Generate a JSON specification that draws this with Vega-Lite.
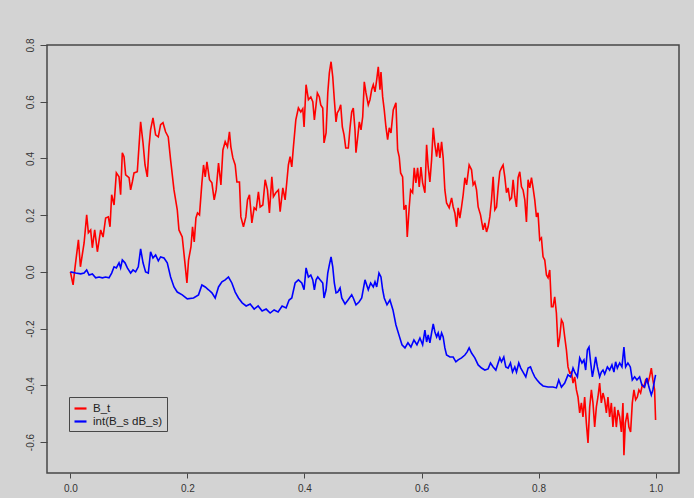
{
  "$schema": "https://vega.github.io/schema/vega-lite/v6.json",
  "autosize": "none",
  "width": 632,
  "height": 428,
  "padding": {"left": 47, "top": 45, "right": 15, "bottom": 25},
  "background": "#d3d3d3",
  "config": {
    "view": {"stroke": "#474747", "strokeWidth": 1.5, "fill": "#d3d3d3"},
    "axis": {"grid": false, "domain": false, "tickColor": "#474747", "tickWidth": 1, "labelFont": "Liberation Sans", "labelFontSize": 10, "labelColor": "#333333", "title": null}
  },
  "datasets": {
    "bt": [
      {"t":0,"v":0},{"t":0.0046,"v":-0.046},{"t":0.008,"v":0.018},{"t":0.0137,"v":0.113},{"t":0.0171,"v":0.018},{"t":0.0234,"v":0.102},{"t":0.0278,"v":0.201},{"t":0.0307,"v":0.138},{"t":0.0346,"v":0.148},{"t":0.0375,"v":0.085},{"t":0.0415,"v":0.148},{"t":0.0461,"v":0.071},{"t":0.0517,"v":0.148},{"t":0.0558,"v":0.123},{"t":0.0602,"v":0.19},{"t":0.0648,"v":0.194},{"t":0.0677,"v":0.159},{"t":0.0705,"v":0.272},{"t":0.0746,"v":0.236},{"t":0.0785,"v":0.349},{"t":0.0831,"v":0.335},{"t":0.0858,"v":0.272},{"t":0.0887,"v":0.42},{"t":0.0916,"v":0.406},{"t":0.0944,"v":0.342},{"t":0.1002,"v":0.332},{"t":0.1029,"v":0.289},{"t":0.1058,"v":0.317},{"t":0.1087,"v":0.349},{"t":0.1143,"v":0.353},{"t":0.12,"v":0.529},{"t":0.1241,"v":0.455},{"t":0.1275,"v":0.377},{"t":0.1314,"v":0.335},{"t":0.1343,"v":0.441},{"t":0.137,"v":0.501},{"t":0.1411,"v":0.543},{"t":0.1456,"v":0.483},{"t":0.1502,"v":0.476},{"t":0.1541,"v":0.519},{"t":0.1582,"v":0.526},{"t":0.1626,"v":0.494},{"t":0.1672,"v":0.476},{"t":0.1712,"v":0.395},{"t":0.177,"v":0.289},{"t":0.1826,"v":0.219},{"t":0.1855,"v":0.148},{"t":0.1911,"v":0.123},{"t":0.1957,"v":0.032},{"t":0.1991,"v":-0.039},{"t":0.2019,"v":0.042},{"t":0.206,"v":0.088},{"t":0.2087,"v":0.159},{"t":0.2116,"v":0.106},{"t":0.2145,"v":0.19},{"t":0.2172,"v":0.208},{"t":0.2206,"v":0.201},{"t":0.2247,"v":0.314},{"t":0.2275,"v":0.377},{"t":0.2304,"v":0.335},{"t":0.2333,"v":0.388},{"t":0.2377,"v":0.325},{"t":0.2418,"v":0.314},{"t":0.2457,"v":0.254},{"t":0.2491,"v":0.289},{"t":0.2531,"v":0.384},{"t":0.2572,"v":0.307},{"t":0.2606,"v":0.43},{"t":0.2645,"v":0.459},{"t":0.2684,"v":0.441},{"t":0.2718,"v":0.494},{"t":0.2742,"v":0.441},{"t":0.2776,"v":0.402},{"t":0.2816,"v":0.377},{"t":0.2845,"v":0.317},{"t":0.2889,"v":0.317},{"t":0.2913,"v":0.194},{"t":0.2957,"v":0.159},{"t":0.2998,"v":0.194},{"t":0.3026,"v":0.254},{"t":0.306,"v":0.272},{"t":0.3101,"v":0.173},{"t":0.314,"v":0.226},{"t":0.3174,"v":0.219},{"t":0.3213,"v":0.282},{"t":0.3242,"v":0.229},{"t":0.3288,"v":0.236},{"t":0.3328,"v":0.325},{"t":0.3367,"v":0.289},{"t":0.3401,"v":0.208},{"t":0.3442,"v":0.335},{"t":0.3469,"v":0.265},{"t":0.351,"v":0.279},{"t":0.3555,"v":0.289},{"t":0.3584,"v":0.212},{"t":0.363,"v":0.296},{"t":0.3669,"v":0.254},{"t":0.3698,"v":0.317},{"t":0.3725,"v":0.377},{"t":0.3754,"v":0.406},{"t":0.3783,"v":0.37},{"t":0.3811,"v":0.441},{"t":0.3852,"v":0.536},{"t":0.3896,"v":0.578},{"t":0.3937,"v":0.564},{"t":0.3971,"v":0.575},{"t":0.3993,"v":0.511},{"t":0.4027,"v":0.66},{"t":0.4067,"v":0.607},{"t":0.4108,"v":0.617},{"t":0.4142,"v":0.6},{"t":0.4169,"v":0.536},{"t":0.4198,"v":0.589},{"t":0.422,"v":0.631},{"t":0.4254,"v":0.617},{"t":0.4278,"v":0.589},{"t":0.4312,"v":0.578},{"t":0.4334,"v":0.455},{"t":0.4369,"v":0.49},{"t":0.4398,"v":0.631},{"t":0.4425,"v":0.702},{"t":0.4454,"v":0.741},{"t":0.4483,"v":0.688},{"t":0.451,"v":0.607},{"t":0.4539,"v":0.529},{"t":0.4561,"v":0.561},{"t":0.459,"v":0.571},{"t":0.4619,"v":0.589},{"t":0.4647,"v":0.511},{"t":0.4676,"v":0.483},{"t":0.4705,"v":0.437},{"t":0.4749,"v":0.437},{"t":0.4778,"v":0.508},{"t":0.4807,"v":0.564},{"t":0.4834,"v":0.578},{"t":0.4863,"v":0.501},{"t":0.488,"v":0.42},{"t":0.491,"v":0.476},{"t":0.4937,"v":0.529},{"t":0.4966,"v":0.501},{"t":0.4995,"v":0.547},{"t":0.5022,"v":0.67},{"t":0.5051,"v":0.631},{"t":0.509,"v":0.589},{"t":0.5119,"v":0.607},{"t":0.5148,"v":0.642},{"t":0.5176,"v":0.66},{"t":0.5205,"v":0.635},{"t":0.5234,"v":0.677},{"t":0.5261,"v":0.723},{"t":0.529,"v":0.642},{"t":0.5307,"v":0.705},{"t":0.5336,"v":0.617},{"t":0.5363,"v":0.571},{"t":0.5392,"v":0.511},{"t":0.5421,"v":0.466},{"t":0.5449,"v":0.508},{"t":0.5478,"v":0.49},{"t":0.5517,"v":0.571},{"t":0.5563,"v":0.596},{"t":0.5592,"v":0.43},{"t":0.5619,"v":0.406},{"t":0.5643,"v":0.349},{"t":0.5677,"v":0.335},{"t":0.57,"v":0.219},{"t":0.5734,"v":0.236},{"t":0.5756,"v":0.123},{"t":0.579,"v":0.229},{"t":0.5814,"v":0.289},{"t":0.5848,"v":0.279},{"t":0.5875,"v":0.367},{"t":0.5904,"v":0.314},{"t":0.5933,"v":0.367},{"t":0.5961,"v":0.3},{"t":0.599,"v":0.37},{"t":0.6019,"v":0.314},{"t":0.6058,"v":0.279},{"t":0.6087,"v":0.448},{"t":0.6114,"v":0.37},{"t":0.6143,"v":0.317},{"t":0.6172,"v":0.395},{"t":0.62,"v":0.508},{"t":0.6229,"v":0.448},{"t":0.6258,"v":0.406},{"t":0.6285,"v":0.455},{"t":0.6314,"v":0.402},{"t":0.6343,"v":0.459},{"t":0.637,"v":0.402},{"t":0.6399,"v":0.289},{"t":0.6428,"v":0.243},{"t":0.6473,"v":0.226},{"t":0.6514,"v":0.261},{"t":0.6541,"v":0.229},{"t":0.657,"v":0.208},{"t":0.6599,"v":0.159},{"t":0.6626,"v":0.226},{"t":0.6655,"v":0.19},{"t":0.6684,"v":0.229},{"t":0.6712,"v":0.272},{"t":0.6741,"v":0.332},{"t":0.677,"v":0.307},{"t":0.6814,"v":0.377},{"t":0.6855,"v":0.36},{"t":0.6882,"v":0.307},{"t":0.6911,"v":0.317},{"t":0.694,"v":0.289},{"t":0.6968,"v":0.229},{"t":0.7008,"v":0.201},{"t":0.7053,"v":0.148},{"t":0.7082,"v":0.173},{"t":0.7111,"v":0.141},{"t":0.7138,"v":0.159},{"t":0.7167,"v":0.194},{"t":0.7196,"v":0.254},{"t":0.7224,"v":0.335},{"t":0.7253,"v":0.219},{"t":0.7282,"v":0.229},{"t":0.7309,"v":0.296},{"t":0.7338,"v":0.353},{"t":0.7367,"v":0.367},{"t":0.7394,"v":0.377},{"t":0.7423,"v":0.335},{"t":0.7452,"v":0.279},{"t":0.748,"v":0.296},{"t":0.7509,"v":0.254},{"t":0.7538,"v":0.261},{"t":0.7565,"v":0.325},{"t":0.7594,"v":0.265},{"t":0.7623,"v":0.229},{"t":0.765,"v":0.332},{"t":0.7679,"v":0.353},{"t":0.7708,"v":0.3},{"t":0.7735,"v":0.289},{"t":0.7765,"v":0.254},{"t":0.7793,"v":0.176},{"t":0.7821,"v":0.325},{"t":0.785,"v":0.296},{"t":0.7879,"v":0.332},{"t":0.7906,"v":0.296},{"t":0.7935,"v":0.254},{"t":0.7964,"v":0.194},{"t":0.7991,"v":0.208},{"t":0.802,"v":0.113},{"t":0.8049,"v":0.12},{"t":0.8077,"v":0.053},{"t":0.8106,"v":0.042},{"t":0.8135,"v":-0.011},{"t":0.8162,"v":-0.021},{"t":0.8191,"v":0.007},{"t":0.822,"v":-0.123},{"t":0.8247,"v":-0.123},{"t":0.8276,"v":-0.088},{"t":0.8305,"v":-0.145},{"t":0.8333,"v":-0.265},{"t":0.8362,"v":-0.229},{"t":0.8391,"v":-0.169},{"t":0.8418,"v":-0.18},{"t":0.8447,"v":-0.229},{"t":0.8476,"v":-0.275},{"t":0.8503,"v":-0.335},{"t":0.8532,"v":-0.356},{"t":0.8561,"v":-0.353},{"t":0.8589,"v":-0.392},{"t":0.8618,"v":-0.37},{"t":0.8647,"v":-0.416},{"t":0.8674,"v":-0.441},{"t":0.8703,"v":-0.497},{"t":0.8732,"v":-0.462},{"t":0.8759,"v":-0.511},{"t":0.8788,"v":-0.441},{"t":0.8817,"v":-0.533},{"t":0.8845,"v":-0.603},{"t":0.8874,"v":-0.476},{"t":0.8903,"v":-0.416},{"t":0.893,"v":-0.462},{"t":0.8959,"v":-0.547},{"t":0.8988,"v":-0.476},{"t":0.9015,"v":-0.441},{"t":0.9044,"v":-0.392},{"t":0.9073,"v":-0.462},{"t":0.9101,"v":-0.427},{"t":0.913,"v":-0.451},{"t":0.9159,"v":-0.497},{"t":0.9186,"v":-0.441},{"t":0.9215,"v":-0.511},{"t":0.9244,"v":-0.462},{"t":0.9271,"v":-0.547},{"t":0.93,"v":-0.476},{"t":0.9329,"v":-0.547},{"t":0.9357,"v":-0.487},{"t":0.9386,"v":-0.511},{"t":0.9415,"v":-0.564},{"t":0.9442,"v":-0.462},{"t":0.9459,"v":-0.646},{"t":0.9483,"v":-0.533},{"t":0.9517,"v":-0.497},{"t":0.9544,"v":-0.547},{"t":0.9573,"v":-0.564},{"t":0.9602,"v":-0.462},{"t":0.963,"v":-0.416},{"t":0.9659,"v":-0.451},{"t":0.9688,"v":-0.441},{"t":0.9715,"v":-0.416},{"t":0.9744,"v":-0.427},{"t":0.9773,"v":-0.399},{"t":0.98,"v":-0.406},{"t":0.9829,"v":-0.381},{"t":0.9869,"v":-0.392},{"t":0.9898,"v":-0.37},{"t":0.9927,"v":-0.339},{"t":0.9954,"v":-0.381},{"t":0.9983,"v":-0.416},{"t":1.0,"v":-0.522}
    ],
    "ib": [
      {"t":0,"v":0},{"t":0.009,"v":-0.004},{"t":0.0176,"v":-0.007},{"t":0.0234,"v":-0.004},{"t":0.0278,"v":0.007},{"t":0.0319,"v":-0.011},{"t":0.0375,"v":-0.007},{"t":0.0432,"v":-0.021},{"t":0.049,"v":-0.018},{"t":0.0546,"v":-0.021},{"t":0.0602,"v":-0.018},{"t":0.066,"v":-0.021},{"t":0.0705,"v":-0.004},{"t":0.0746,"v":0.018},{"t":0.0785,"v":0.014},{"t":0.0831,"v":0.032},{"t":0.0858,"v":0.014},{"t":0.0887,"v":0.042},{"t":0.0933,"v":0.032},{"t":0.0973,"v":0.014},{"t":0.1029,"v":-0.004},{"t":0.107,"v":0.007},{"t":0.1114,"v":0},{"t":0.116,"v":0.018},{"t":0.12,"v":0.081},{"t":0.1241,"v":0.032},{"t":0.1285,"v":0},{"t":0.1331,"v":-0.004},{"t":0.137,"v":0.071},{"t":0.1411,"v":0.049},{"t":0.1456,"v":0.06},{"t":0.1502,"v":0.039},{"t":0.1541,"v":0.053},{"t":0.1599,"v":0.049},{"t":0.1655,"v":0.032},{"t":0.1712,"v":-0.018},{"t":0.177,"v":-0.053},{"t":0.1826,"v":-0.071},{"t":0.1911,"v":-0.081},{"t":0.1997,"v":-0.095},{"t":0.2104,"v":-0.092},{"t":0.2189,"v":-0.081},{"t":0.2247,"v":-0.046},{"t":0.2304,"v":-0.053},{"t":0.236,"v":-0.063},{"t":0.2418,"v":-0.074},{"t":0.2474,"v":-0.092},{"t":0.2531,"v":-0.053},{"t":0.2589,"v":-0.035},{"t":0.2645,"v":-0.028},{"t":0.2701,"v":-0.018},{"t":0.2759,"v":-0.039},{"t":0.2816,"v":-0.071},{"t":0.2872,"v":-0.092},{"t":0.2935,"v":-0.109},{"t":0.3003,"v":-0.12},{"t":0.3072,"v":-0.113},{"t":0.314,"v":-0.131},{"t":0.3208,"v":-0.12},{"t":0.3276,"v":-0.138},{"t":0.3345,"v":-0.131},{"t":0.3413,"v":-0.145},{"t":0.3481,"v":-0.134},{"t":0.3549,"v":-0.141},{"t":0.3618,"v":-0.12},{"t":0.3686,"v":-0.127},{"t":0.3737,"v":-0.099},{"t":0.3783,"v":-0.092},{"t":0.384,"v":-0.039},{"t":0.3896,"v":-0.028},{"t":0.3954,"v":-0.039},{"t":0.3993,"v":-0.063},{"t":0.4027,"v":0.014},{"t":0.4067,"v":-0.018},{"t":0.4108,"v":-0.011},{"t":0.4142,"v":-0.028},{"t":0.4169,"v":-0.063},{"t":0.4198,"v":-0.028},{"t":0.4227,"v":-0.018},{"t":0.4266,"v":-0.028},{"t":0.4312,"v":-0.039},{"t":0.4334,"v":-0.092},{"t":0.4369,"v":-0.063},{"t":0.4398,"v":-0.004},{"t":0.4425,"v":0.025},{"t":0.4454,"v":0.053},{"t":0.4483,"v":0.018},{"t":0.451,"v":-0.039},{"t":0.4539,"v":-0.074},{"t":0.4568,"v":-0.071},{"t":0.4608,"v":-0.056},{"t":0.4637,"v":-0.092},{"t":0.4693,"v":-0.113},{"t":0.4744,"v":-0.099},{"t":0.4807,"v":-0.081},{"t":0.4834,"v":-0.092},{"t":0.488,"v":-0.116},{"t":0.4932,"v":-0.106},{"t":0.4978,"v":-0.092},{"t":0.5034,"v":-0.028},{"t":0.5063,"v":-0.046},{"t":0.509,"v":-0.063},{"t":0.5131,"v":-0.039},{"t":0.5176,"v":-0.053},{"t":0.5205,"v":-0.035},{"t":0.5234,"v":-0.053},{"t":0.5273,"v":-0.004},{"t":0.5307,"v":-0.018},{"t":0.5336,"v":-0.063},{"t":0.5363,"v":-0.092},{"t":0.541,"v":-0.116},{"t":0.546,"v":-0.099},{"t":0.5512,"v":-0.134},{"t":0.5563,"v":-0.187},{"t":0.5614,"v":-0.222},{"t":0.5666,"v":-0.257},{"t":0.5717,"v":-0.268},{"t":0.5768,"v":-0.25},{"t":0.5819,"v":-0.265},{"t":0.587,"v":-0.24},{"t":0.5922,"v":-0.257},{"t":0.5973,"v":-0.233},{"t":0.6019,"v":-0.257},{"t":0.6058,"v":-0.205},{"t":0.6087,"v":-0.247},{"t":0.6114,"v":-0.222},{"t":0.6143,"v":-0.25},{"t":0.6172,"v":-0.215},{"t":0.62,"v":-0.183},{"t":0.6229,"v":-0.212},{"t":0.6258,"v":-0.229},{"t":0.6285,"v":-0.215},{"t":0.6314,"v":-0.24},{"t":0.6343,"v":-0.215},{"t":0.637,"v":-0.229},{"t":0.6399,"v":-0.268},{"t":0.6428,"v":-0.293},{"t":0.6485,"v":-0.3},{"t":0.6541,"v":-0.3},{"t":0.6587,"v":-0.317},{"t":0.6626,"v":-0.31},{"t":0.6684,"v":-0.303},{"t":0.6741,"v":-0.293},{"t":0.678,"v":-0.282},{"t":0.6814,"v":-0.268},{"t":0.6855,"v":-0.286},{"t":0.6911,"v":-0.303},{"t":0.6968,"v":-0.328},{"t":0.7026,"v":-0.339},{"t":0.7082,"v":-0.346},{"t":0.7138,"v":-0.342},{"t":0.7179,"v":-0.321},{"t":0.7224,"v":-0.335},{"t":0.727,"v":-0.346},{"t":0.7309,"v":-0.321},{"t":0.7338,"v":-0.303},{"t":0.7367,"v":-0.317},{"t":0.7406,"v":-0.3},{"t":0.744,"v":-0.335},{"t":0.748,"v":-0.339},{"t":0.752,"v":-0.321},{"t":0.7555,"v":-0.353},{"t":0.7594,"v":-0.335},{"t":0.7623,"v":-0.353},{"t":0.7662,"v":-0.321},{"t":0.7696,"v":-0.339},{"t":0.7735,"v":-0.353},{"t":0.7782,"v":-0.37},{"t":0.7821,"v":-0.339},{"t":0.7862,"v":-0.335},{"t":0.7896,"v":-0.353},{"t":0.7935,"v":-0.37},{"t":0.7974,"v":-0.381},{"t":0.802,"v":-0.392},{"t":0.8077,"v":-0.402},{"t":0.8162,"v":-0.406},{"t":0.8247,"v":-0.406},{"t":0.8305,"v":-0.409},{"t":0.8345,"v":-0.381},{"t":0.8391,"v":-0.406},{"t":0.8447,"v":-0.392},{"t":0.8503,"v":-0.363},{"t":0.8549,"v":-0.37},{"t":0.8589,"v":-0.339},{"t":0.8618,"v":-0.353},{"t":0.8664,"v":-0.37},{"t":0.8703,"v":-0.303},{"t":0.8742,"v":-0.321},{"t":0.8776,"v":-0.31},{"t":0.8805,"v":-0.346},{"t":0.8834,"v":-0.275},{"t":0.8862,"v":-0.265},{"t":0.8891,"v":-0.321},{"t":0.892,"v":-0.37},{"t":0.8947,"v":-0.339},{"t":0.8976,"v":-0.3},{"t":0.9005,"v":-0.335},{"t":0.9044,"v":-0.37},{"t":0.9073,"v":-0.353},{"t":0.9101,"v":-0.346},{"t":0.913,"v":-0.36},{"t":0.9176,"v":-0.335},{"t":0.9215,"v":-0.346},{"t":0.9254,"v":-0.328},{"t":0.9288,"v":-0.353},{"t":0.9317,"v":-0.317},{"t":0.9346,"v":-0.339},{"t":0.9386,"v":-0.321},{"t":0.9425,"v":-0.335},{"t":0.9459,"v":-0.265},{"t":0.9488,"v":-0.335},{"t":0.9527,"v":-0.321},{"t":0.9568,"v":-0.335},{"t":0.9602,"v":-0.381},{"t":0.9642,"v":-0.37},{"t":0.9681,"v":-0.381},{"t":0.9727,"v":-0.37},{"t":0.9766,"v":-0.399},{"t":0.9812,"v":-0.406},{"t":0.9852,"v":-0.374},{"t":0.9886,"v":-0.406},{"t":0.9927,"v":-0.434},{"t":0.9954,"v":-0.416},{"t":0.9983,"v":-0.381},{"t":1.0,"v":-0.363}
    ]
  },
  "encoding": {
    "x": {"field": "t", "type": "quantitative", "scale": {"domain": [-0.04, 1.04], "nice": false, "zero": false},
      "axis": {"values": [0, 0.2, 0.4, 0.6, 0.8, 1.0], "tickSize": 5, "labelPadding": 5, "labelExpr": "format(datum.value, '.1f')"}},
    "y": {"field": "v", "type": "quantitative", "scale": {"domain": [-0.709, 0.8], "nice": false, "zero": false},
      "axis": {"values": [-0.6, -0.4, -0.2, 0, 0.2, 0.4, 0.6, 0.8], "tickSize": 7, "labelPadding": 5, "labelAngle": -90, "labelAlign": "center", "labelBaseline": "bottom", "labelExpr": "replace(format(datum.value, '.1f'), '\u2212', '-')"}}
  },
  "layer": [
    {
      "data": {"name": "bt"},
      "mark": {"type": "line", "strokeWidth": 1.6, "interpolate": "linear"},
      "encoding": {"color": {"datum": "B_t", "type": "nominal", "scale": {"domain": ["B_t", "int(B_s dB_s)"], "range": ["#ff0000", "#0000ff"]},
        "legend": {"title": null, "orient": "none", "legendX": 22, "legendY": 352, "symbolType": "stroke", "symbolStrokeWidth": 2.2, "symbolSize": 144, "strokeColor": "#474747", "padding": 4, "labelFont": "Liberation Sans", "labelFontSize": 11.5, "labelColor": "#222222", "rowPadding": 0, "labelOffset": 5, "fillColor": "#d3d3d3"}}}
    },
    {
      "data": {"name": "ib"},
      "mark": {"type": "line", "strokeWidth": 1.6, "interpolate": "linear"},
      "encoding": {"color": {"datum": "int(B_s dB_s)", "type": "nominal"}}
    }
  ]
}
